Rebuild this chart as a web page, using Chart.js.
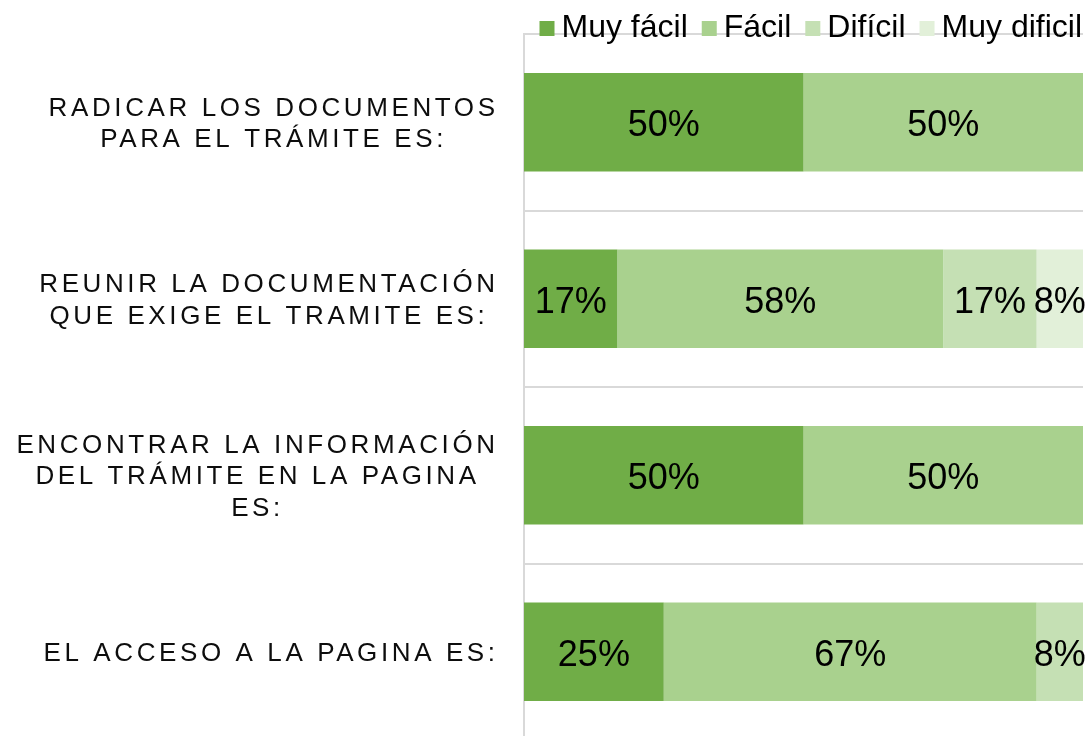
<!DOCTYPE html>
<html>
<head>
<meta charset="utf-8">
<script src="https://cdn.jsdelivr.net/npm/chart.js@4.4.1/dist/chart.umd.min.js"></script>
<style>
  html, body { margin: 0; padding: 0; background: #fff; overflow: hidden; }
  .wrap { width: 1089px; height: 750px; }
</style>
</head>
<body>
<div class="wrap"><canvas id="survey_chart" width="1089" height="750"></canvas></div>
<script>
// categories, top to bottom (each one already split into its lines)
const categories = [
  ["RADICAR LOS DOCUMENTOS", "PARA EL TRÁMITE ES:"],
  ["REUNIR LA DOCUMENTACIÓN", "QUE EXIGE EL TRAMITE ES:"],
  ["ENCONTRAR LA INFORMACIÓN", "DEL TRÁMITE EN LA PAGINA", "ES:"],
  ["EL ACCESO A LA PAGINA ES:"],
];
const seriesNames = ["Muy fácil", "Fácil", "Difícil", "Muy dificil"];
const muyFacil = [50, 16.7, 50, 25];
const facil = [50, 58.3, 50, 66.7];
const dificil = [0, 16.7, 0, 8.3];
const muyDificil = [0, 8.3, 0, 0];
const colors = ["#70ad47", "#a9d18e", "#c5e0b4", "#e2f0d9"];

const FONT = '"Liberation Sans", Arial, sans-serif';
Chart.defaults.font.family = FONT;

// category labels: block right aligned next to the axis, lines centred in the block
const categoryLabels = {
  id: 'categoryLabels',
  afterDraw(chart) {
    const ctx = chart.ctx;
    const yScale = chart.scales.y;
    const spacing = 3.6;
    const lineH = 31.5;
    ctx.save();
    ctx.font = '26px ' + FONT;
    ctx.fillStyle = '#0d0d0d';
    ctx.textBaseline = 'middle';
    ctx.textAlign = 'left';
    chart.data.labels.forEach((lines, i) => {
      ctx.letterSpacing = '0px';
      const widths = lines.map(l => ctx.measureText(l).width + spacing * (l.length - 1));
      const blockW = Math.max(...widths);
      const cx = chart.chartArea.left - 29 - blockW / 2;
      const cy = yScale.getPixelForValue(i) + 2;
      const top = cy - (lines.length - 1) * lineH / 2;
      ctx.letterSpacing = spacing + 'px';
      lines.forEach((l, j) => ctx.fillText(l, cx - widths[j] / 2, top + j * lineH));
    });
    ctx.restore();
  }
};

// percentage labels in the middle of each segment
const segmentLabels = {
  id: 'segmentLabels',
  afterDatasetsDraw(chart) {
    const ctx = chart.ctx;
    ctx.save();
    ctx.font = '36px ' + FONT;
    ctx.fillStyle = '#000';
    ctx.textAlign = 'center';
    ctx.textBaseline = 'middle';
    chart.data.datasets.forEach((ds, di) => {
      chart.getDatasetMeta(di).data.forEach((bar, i) => {
        const v = ds.data[i];
        if (!v) return;
        const p = bar.getCenterPoint();
        ctx.fillText(Math.round(v) + '%', p.x, p.y + 4);
      });
    });
    ctx.restore();
  }
};

// legend row, right aligned above the plot
const legendRow = {
  id: 'legendRow',
  afterDraw(chart) {
    const ctx = chart.ctx;
    const box = 15, gapText = 7, gapItem = 14;
    ctx.save();
    ctx.font = '32px ' + FONT;
    ctx.textBaseline = 'middle';
    ctx.textAlign = 'left';
    const items = chart.data.datasets.map(ds => ({ text: ds.label, color: ds.backgroundColor, w: ctx.measureText(ds.label).width }));
    const total = items.reduce((s, it) => s + box + gapText + it.w, 0) + gapItem * (items.length - 1);
    let x = chart.chartArea.right - 1 - total;
    items.forEach(it => {
      ctx.fillStyle = it.color;
      ctx.fillRect(x, 21, box, box);
      ctx.fillStyle = '#000';
      ctx.fillText(it.text, x + box + gapText, 28);
      x += box + gapText + it.w + gapItem;
    });
    ctx.restore();
  }
};

const survey_chart = document.getElementById('survey_chart').getContext('2d');
const chart1 = new Chart(survey_chart, {
  type: 'bar',
  data: {
    labels: categories,
    datasets: [{
      label: seriesNames[0],
      data: muyFacil,
      backgroundColor: colors[0],
    }, {
      label: seriesNames[1],
      data: facil,
      backgroundColor: colors[1],
    }, {
      label: seriesNames[2],
      data: dificil,
      backgroundColor: colors[2],
    }, {
      label: seriesNames[3],
      data: muyDificil,
      backgroundColor: colors[3],
    }],
  },
  options: {
    indexAxis: 'y',
    responsive: false,
    animation: false,
    devicePixelRatio: 1,
    categoryPercentage: 0.558,
    barPercentage: 1,
    layout: { padding: { top: 34, left: 524, right: 6, bottom: 10 } },
    plugins: {
      legend: { display: false },
      tooltip: { enabled: false },
    },
    scales: {
      x: { stacked: true, min: 0, max: 100, display: false },
      y: {
        stacked: true,
        ticks: { display: false },
        grid: { color: '#d9d9d9', lineWidth: 2, drawTicks: false },
        border: { color: '#d9d9d9', width: 2 },
      },
    },
  },
  plugins: [categoryLabels, segmentLabels, legendRow],
});
</script>
</body>
</html>
